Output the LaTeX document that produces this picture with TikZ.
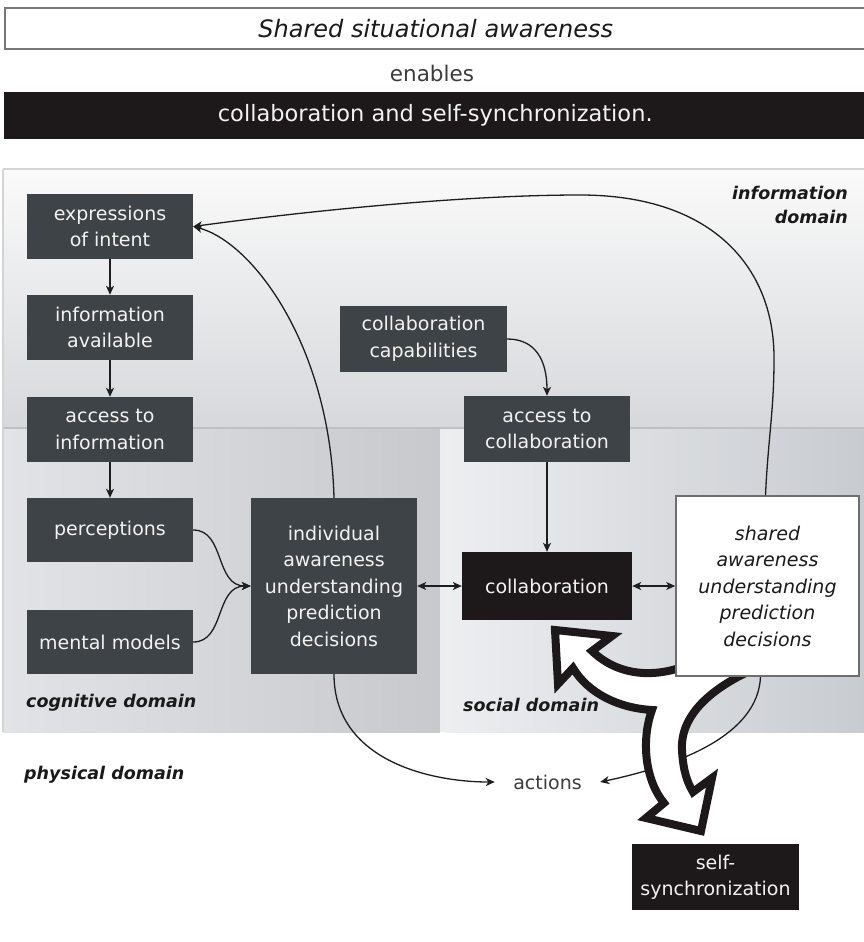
\documentclass[tikz,border=0pt]{standalone}
\usepackage{fontspec}
\setmainfont{DejaVu Sans}
\usetikzlibrary{arrows.meta}

\definecolor{slate}{RGB}{62,67,71}
\definecolor{ink}{RGB}{29,25,26}
\definecolor{linec}{RGB}{30,30,30}
\definecolor{boxtext}{RGB}{242,242,242}
\definecolor{textdark}{RGB}{26,26,26}
\definecolor{textmid}{RGB}{60,60,60}
\definecolor{titleline}{RGB}{120,120,120}
\definecolor{infotop}{RGB}{250,250,250}
\definecolor{infobot}{RGB}{214,216,219}
\definecolor{coglt}{RGB}{226,227,230}
\definecolor{cogdk}{RGB}{199,201,205}
\definecolor{stripc}{RGB}{236,237,239}
\definecolor{soclt}{RGB}{236,238,240}
\definecolor{socdk}{RGB}{200,203,208}
\definecolor{sepc}{RGB}{190,192,196}
\definecolor{framec}{RGB}{212,212,212}
\definecolor{sharedline}{RGB}{110,110,110}

\newcommand\bxfont{\fontsize{19}{26.5}\selectfont}
\newcommand\dmfont{\fontsize{17.5}{24}\selectfont\bfseries\itshape}

\pgfdeclarelayer{bg}
\pgfdeclarelayer{under}
\pgfsetlayers{bg,under,main}

\begin{document}
\begin{tikzpicture}[x=1pt,y=-1pt,
  darkbox/.style={fill=slate, text=boxtext, minimum width=166pt, minimum height=65pt,
    inner sep=0pt, align=center, font=\bxfont},
  inkbox/.style={darkbox, fill=ink},
  tip/.style={-{Stealth[length=9pt,width=8pt,inset=2.5pt]}},
  conn/.style={draw=linec, line width=1.3pt, tip},
  twoway/.style={draw=linec, line width=1.3pt,
    {Stealth[length=9pt,width=8pt,inset=2.5pt]}-{Stealth[length=9pt,width=8pt,inset=2.5pt]}},
  domainlabel/.style={font=\dmfont, text=textdark, inner sep=0pt, align=right}]

\useasboundingbox (0,0) rectangle (864,942);

% ---- domain backgrounds ----
\begin{pgfonlayer}{bg}
  \fill[white] (0,0) rectangle (864,942);
  \shade[top color=infotop, bottom color=infobot] (3,170) rectangle (866,428);
  \shade[left color=coglt, right color=cogdk] (3,428) rectangle (440,732);
  \fill[stripc] (440,428) rectangle (446,732);
  \shade[left color=soclt, right color=socdk] (446,428) rectangle (866,732);
  \draw[sepc, line width=1.5pt] (3,428) -- (866,428);
  \draw[framec, line width=2pt] (3,169) -- (866,169);
  \draw[framec, line width=1.5pt] (3,169) -- (3,732);

  \node[domainlabel, anchor=north east] (infodom) at (848,186) {information\\domain};
  \node[domainlabel, anchor=west] (cogdom) at (26,703) {cognitive domain};
  \node[domainlabel, anchor=west] (socdom) at (463,705) {social domain};
  \node[domainlabel, anchor=west] (physdom) at (24,775) {physical domain};
\end{pgfonlayer}

% ---- heading ----
\node[draw=titleline, line width=1.5pt, fill=white, minimum width=862pt, minimum height=41pt,
  inner sep=0pt, anchor=west, text=textdark, font=\fontsize{24}{28}\selectfont\itshape]
  (title) at (4,28.5) {Shared situational awareness};
\node[text=textmid, font=\fontsize{21.5}{26}\selectfont] (enables) at (432,73) {enables};
\node[fill=ink, minimum width=862pt, minimum height=47pt, inner sep=0pt, anchor=west,
  text=boxtext, font=\fontsize{22.5}{27}\selectfont]
  (bar) at (4,115.5) {collaboration and self-synchronization.};

% ---- boxes ----
\node[darkbox] (exp) at (110,226.5) {expressions\\of intent};
\node[darkbox] (inf) at (110,327.5) {information\\available};
\node[darkbox] (acc) at (110,429.5) {access to\\information};
\node[darkbox, minimum height=64pt] (per) at (110,530) {perceptions};
\node[darkbox, minimum height=64pt] (men) at (110,642) {mental models};
\node[darkbox, minimum height=176pt] (ind) at (334,586)
  {individual\\awareness\\understanding\\prediction\\decisions};
\node[darkbox, minimum width=167pt, minimum height=66pt] (cap) at (423.5,339)
  {collaboration\\capabilities};
\node[darkbox, minimum height=66pt] (acol) at (547,429) {access to\\collaboration};
\node[inkbox, minimum width=170pt, minimum height=68pt] (col) at (547,586) {collaboration};
\node[inkbox, minimum width=167pt, minimum height=66pt] (syn) at (715.5,877)
  {self-\\synchronization};
\node[draw=sharedline, line width=1.5pt, fill=white, minimum width=183pt, minimum height=180pt,
  inner sep=0pt, align=center, text=textdark, font=\bxfont\itshape] (sha) at (767.5,586)
  {shared\\awareness\\understanding\\prediction\\decisions};
\node[minimum width=105pt, inner sep=0pt, text=textmid, font=\bxfont] (act) at (547.5,782) {actions};

% ---- shared awareness to actions, and the forked arrow, beneath the shared box ----
\begin{pgfonlayer}{under}
  \draw[conn] ([xshift=-7pt]sha.south) .. controls (758,735) and (680,765) .. (act.east);
  \draw[draw=ink, fill=white, line width=8pt, line join=miter, miter limit=10]
    (555,630) -- (612,636) -- (592,651)
    .. controls (618,676) and (655,679) .. (690,664)
    -- (755,662) -- (752,670)
    .. controls (712,688) and (680,715) .. (682,750)
    .. controls (683,770) and (687,782) .. (693,792)
    -- (712,778) -- (701,831) -- (646,818) -- (664,803)
    .. controls (645,780) and (641,740) .. (652,710)
    .. controls (618,708) and (588,693) .. (573,668)
    -- (558,684) -- cycle;
\end{pgfonlayer}

% ---- connectors ----
\draw[conn] (exp) -- (inf);
\draw[conn] (inf) -- (acc);
\draw[conn] (acc) -- (per);
\draw[conn] (per.east) .. controls +(32,0) and +(-36,0) .. (ind.west);
\draw[conn] (men.east) .. controls +(32,0) and +(-36,0) .. (ind.west);
\draw[twoway] (ind.east) -- (col.west);
\draw[twoway] (col.east) -- (sha.west);
\draw[conn] (acol) -- (col);
\draw[conn] (cap.east) .. controls +(28,0) and +(0,-36) .. (acol.north);
\draw[conn] (ind.north) .. controls +(-4,-153) and +(59,15.5) .. (exp.east);
\coordinate (loopA) at (774,360);
\coordinate (loopB) at (580,195);
\draw[conn] ([xshift=-2pt]sha.north) .. controls (768,440) and (774,410) .. (loopA)
  .. controls (775,270) and (715,195) .. (loopB)
  .. controls (460,195) and (300,212) .. (exp.east);
\draw[conn] (ind.south) .. controls +(0,86) and +(-65,0) .. (act.west);

\end{tikzpicture}
\end{document}
